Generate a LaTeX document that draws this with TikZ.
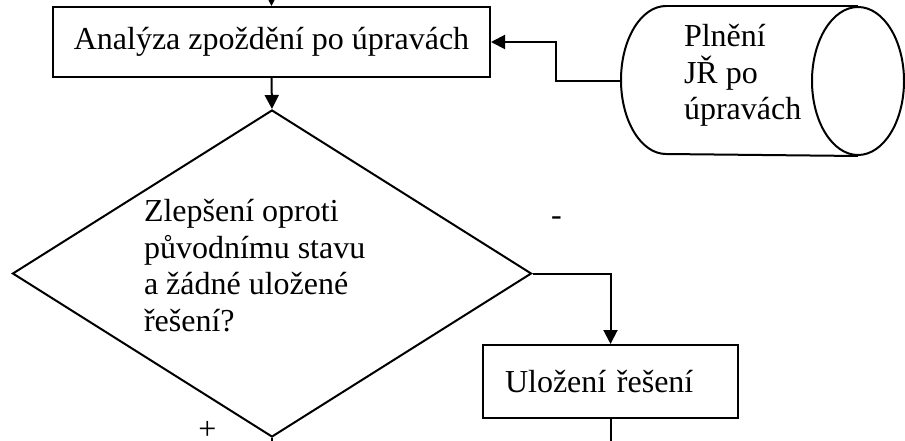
\documentclass[tikz,border=0pt]{standalone}
\usepackage{fontspec}
\setmainfont{Liberation Serif}
\usetikzlibrary{arrows.meta,shapes.geometric}

\begin{document}
\begin{tikzpicture}[x=1pt,y=1pt,->,>={Triangle[length=14pt,width=14pt]},
                line width=2pt,
                block/.style={rectangle,draw,font=\fontsize{32}{37}\selectfont},
                decision/.style={diamond,draw,minimum width=519pt,minimum height=327pt,inner sep=0pt},
                store/.style={rectangle,minimum width=281pt,minimum height=148pt,inner sep=0pt},
                note/.style={font=\fontsize{32}{36.5}\selectfont,align=left,anchor=base west,inner sep=0pt},
                sign/.style={font=\fontsize{32}{32}\selectfont,anchor=base,text depth=0pt,inner sep=0pt}]
  \useasboundingbox (0,0) rectangle (905,-441);

  \node[block,minimum width=437pt,minimum height=70pt] (analyza) at (271.5,-42) {Analýza zpoždění po úpravách};
  \node[decision] (zlepseni) at (272,-273.5) {};
  \node[note] (otazka) at (143,-331) {Zlepšení oproti\\původnímu stavu\\a žádné uložené\\řešení?};
  \node[block,minimum width=255pt,minimum height=73pt,text width=211pt,align=left] (ulozeni) at (610.5,-381.5) {Uložení řešení};
  \node[store] (plneni) at (762.5,-81) {};
  \node[note] (data) at (683,-120) {Plnění\\JŘ po\\úpravách};
  \node[sign] (minus) at (556.5,-225) {-};
  \node[sign] (plus) at (207.5,-439) {+};

  % valec
  \draw[-] ([xshift=45pt]plneni.north west)
      arc[start angle=90,end angle=270,x radius=45pt,y radius=74pt]
      -- ([xshift=-46pt]plneni.south east);
  \draw[-] ([xshift=45pt]plneni.north west) -- ([xshift=-46pt]plneni.north east);
  \draw[-] ([xshift=-46pt]plneni.east) ellipse[x radius=46pt,y radius=74pt];

  \coordinate (vstup) at (271.5,20);
  \coordinate (dale) at (272,-460);
  \coordinate (konec) at (610.5,-460);

  \draw (vstup) -- (analyza.north);
  \draw (analyza.south) -- (zlepseni.north);
  \draw (plneni.west) -- ++(-65,0) |- (analyza.east);
  \draw (zlepseni.east) -| (ulozeni.north);
  \draw[-] (zlepseni.south) -- (dale);
  \draw[-] (ulozeni.south) -- (konec);
\end{tikzpicture}
\end{document}
